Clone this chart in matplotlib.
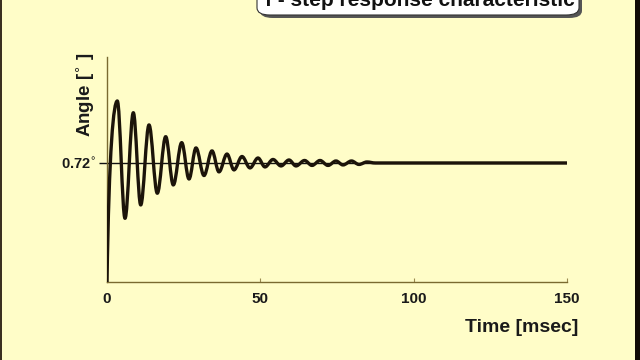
import matplotlib
matplotlib.use('Agg')
import matplotlib.pyplot as plt
from matplotlib.path import Path
from matplotlib.patches import PathPatch, FancyBboxPatch, Rectangle

plt.rcParams['font.family'] = ['Liberation Sans', 'DejaVu Sans']

# Time [msec] of start, extrema (peak, trough, ...) and end of the step response
t_pts = [0.0, 3.36, 5.87, 8.58, 10.99, 13.70, 16.40, 19.14, 21.62, 24.36, 26.74,
         29.02, 31.63, 34.24, 36.52, 39.13, 41.41, 44.02, 46.63, 49.24, 51.52,
         54.13, 56.74, 59.35, 61.63, 64.43, 66.85, 69.46, 72.07, 74.67, 76.96,
         79.73, 82.17, 84.78, 87.5, 150.0]
# Angle [deg] at those points
a_pts = [0.0, 1.095, 0.385, 1.024, 0.466, 0.950, 0.537, 0.879, 0.587, 0.843, 0.623,
         0.811, 0.644, 0.793, 0.666, 0.774, 0.678, 0.759, 0.690, 0.750, 0.696,
         0.741, 0.702, 0.738, 0.702, 0.735, 0.705, 0.735, 0.705, 0.732, 0.708,
         0.732, 0.711, 0.726, 0.72, 0.72]

steady = 0.72
x_ticks = [0, 50, 100, 150]

bg = '#fffdc8'
fig = plt.figure(figsize=(6.4, 3.6), dpi=100, facecolor=bg)
ax = fig.add_axes([0.1672, 0.2167, 0.7187, 0.625], facecolor=bg)

# smooth curve through the extrema (horizontal tangent at each extremum)
verts = [(t_pts[0], a_pts[0])]
codes = [Path.MOVETO]
for i in range(1, len(t_pts)):
    x0, y0 = t_pts[i - 1], a_pts[i - 1]
    x1, y1 = t_pts[i], a_pts[i]
    dx = x1 - x0
    if i == 1:
        c1 = (x0 + 0.2 * dx, y0 + 0.75 * (y1 - y0))
        c2 = (x1 - 0.35 * dx, y1)
    else:
        c1 = (x0 + 0.36 * dx, y0)
        c2 = (x1 - 0.36 * dx, y1)
    verts += [c1, c2, (x1, y1)]
    codes += [Path.CURVE4] * 3

ax.axhline(steady, color='#111111', lw=1.0, zorder=2)
ax.add_patch(PathPatch(Path(verts, codes), fill=False, edgecolor='#1c140a',
                       lw=2.4, zorder=3, capstyle='round', joinstyle='round'))

ax.set_xlim(0, 150)
ax.set_ylim(0, 1.361)
for s in ['top', 'right']:
    ax.spines[s].set_visible(False)
for s in ['left', 'bottom']:
    ax.spines[s].set_color('#7a6a30')
    ax.spines[s].set_linewidth(1.0)

ax.set_xticks(x_ticks)
ax.set_xticklabels([str(v) for v in x_ticks], fontsize=11, fontweight='bold',
                   color='#1a1a1a')
ax.tick_params(axis='x', direction='in', length=3, color='#9a8a50', pad=7)
ax.set_yticks([steady])
ax.set_yticklabels(['0.72$^{\\circ}$'], fontsize=10.5, fontweight='bold',
                   color='#1a1a1a')
ax.tick_params(axis='y', direction='out', length=6, color='#111111', width=1.0,
               pad=2)

fig.text(85 / 640, 1 - 95 / 360, 'Angle [$^{\\circ}$ ]', rotation=90,
         ha='center', va='center', fontsize=13.5, fontweight='bold', color='#1a1a1a')
fig.text(578 / 640, 1 - 327 / 360, 'Time [msec]', ha='right', va='center',
         fontsize=14, fontweight='bold', color='#1a1a1a')

# title box, cut off by the top edge as in the video frame
fig.patches.append(FancyBboxPatch((260 / 640, 1 - 18 / 360), 322 / 640, 40 / 360,
                                  boxstyle='round,pad=0,rounding_size=0.02',
                                  transform=fig.transFigure, facecolor='#555555',
                                  edgecolor='none', zorder=1))
fig.patches.append(FancyBboxPatch((257 / 640, 1 - 15 / 360), 322 / 640, 40 / 360,
                                  boxstyle='round,pad=0,rounding_size=0.02',
                                  transform=fig.transFigure, facecolor='white',
                                  edgecolor='#333333', lw=0.8, zorder=2))
fig.text(420 / 640, 1 - 6 / 360, 'f - step response characteristic', ha='center',
         va='baseline', fontsize=15, fontweight='bold', color='#111111', zorder=3)

# dark video borders
fig.patches.append(Rectangle((635 / 640, 0), 5 / 640, 1, transform=fig.transFigure,
                             facecolor='#110a05', edgecolor='none', zorder=5))
fig.patches.append(Rectangle((0, 0), 2 / 640, 1, transform=fig.transFigure,
                             facecolor='#3a3020', edgecolor='none', zorder=5))

fig.savefig('out.png', dpi=100, facecolor=bg)
